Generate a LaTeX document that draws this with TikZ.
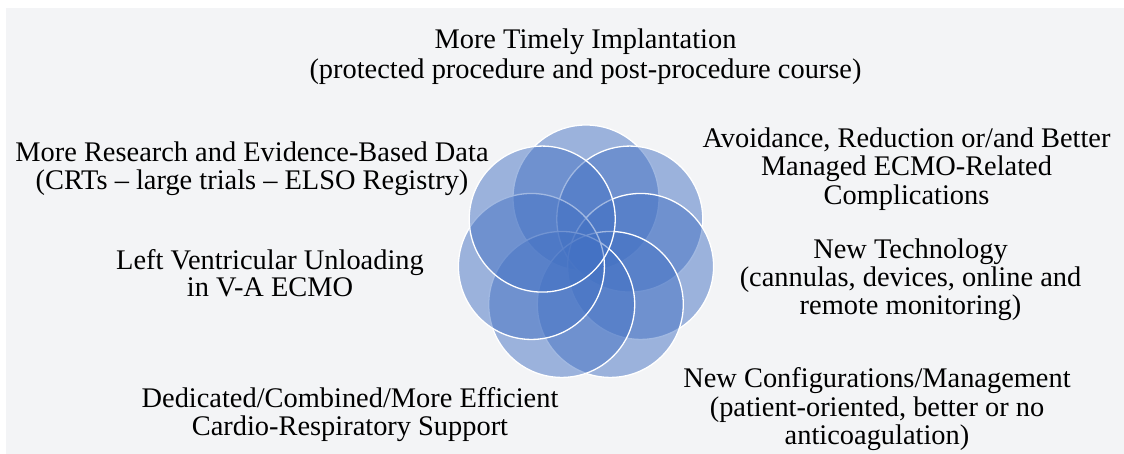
\documentclass[tikz,border=0pt]{standalone}
\usepackage{fontspec}
\setmainfont{Liberation Serif}
\usetikzlibrary{calc}
\begin{document}
\begin{tikzpicture}[x=1pt,y=1pt,
  petal/.style={circle, inner sep=0pt, minimum size=146pt,
    fill={rgb,255:red,68;green,114;blue,196}, fill opacity=0.5,
    draw=white, draw opacity=1, line width=1.3pt},
  % labels are placed by the baseline of their last line
  lbl/.style={align=center, anchor=base, inner sep=0pt, text=black,
    font=\fontsize{28.4}{#1}\selectfont},
  lbl/.default=28.4]
  % canvas
  \definecolor{panel}{RGB}{243,244,246}
  \useasboundingbox (0,0) rectangle (1124,454);
  \fill[white] (0,0) rectangle (1124,454);
  \fill[panel] (6,0) rectangle (1124,446);

  % seven overlapping circles around the hub, drawn clockwise from the top
  \coordinate (hub) at (586,200);
  \foreach \k in {0,...,6} {
    \pgfmathsetmacro{\ang}{90-\k*360/7}
    \node[petal] (c\k) at ($(hub)+(\ang:56)$) {};
  }

  % labels
  \node[lbl=30] (t1) at (585.5,375)
    {More Timely Implantation\\(protected procedure and post-procedure course)};
  \node[lbl=28.3] (t2) at (252,264)
    {More Research and Evidence-Based Data\\(CRTs – large trials – ELSO Registry)};
  \node[lbl=28.5] (t3) at (906.5,249.7)
    {Avoidance, Reduction or/and Better\\Managed ECMO-Related\\Complications};
  \node[lbl=28] (t4) at (910.5,139.7)
    {New Technology\\(cannulas, devices, online and\\remote monitoring)};
  \node[lbl=28.5] (t5) at (877,9)
    {New Configurations/Management\\(patient-oriented, better or no\\anticoagulation)};
  \node[lbl=28.3] (t6) at (350,18.3)
    {Dedicated/Combined/More Efficient\\Cardio-Respiratory Support};
  \node[lbl=27] (t7) at (270,157)
    {Left Ventricular Unloading\\in V-A ECMO};
\end{tikzpicture}
\end{document}
